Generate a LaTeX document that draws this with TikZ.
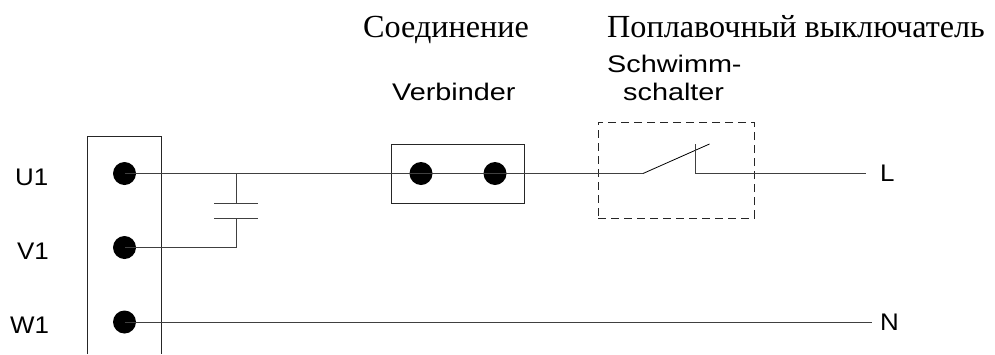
\documentclass[tikz,border=0pt]{standalone}
\usepackage{fontspec}
\setmainfont{Liberation Serif}
\newfontfamily\lsans[FakeStretch=1.2]{Liberation Sans}
\newfontfamily\lsanspin[FakeStretch=1.08]{Liberation Sans}
\begin{document}
\begin{tikzpicture}[x=1pt,y=-1pt,
  wire/.style={draw=black!75,line width=1pt},
  boxline/.style={draw=black!85,line width=0.9pt},
  dot/.style={circle,fill=black,draw=none,minimum size=23pt,inner sep=0pt},
  ru/.style={font=\fontsize{32.2}{32.2}\selectfont,anchor=base west,inner sep=0pt},
  de/.style={font=\lsans\fontsize{24}{24}\selectfont,anchor=base west,inner sep=0pt},
  pin/.style={font=\lsanspin\fontsize{24}{24}\selectfont,anchor=base west,inner sep=0pt}]
\useasboundingbox (0,0) rectangle (995,354);
% terminal block
\coordinate (tbl) at (87.5,354);
\coordinate (ttl) at (87.5,136.5);
\coordinate (ttr) at (161.5,136.5);
\coordinate (tbr) at (161.5,354);
\draw[boxline] (tbl) -- (ttl) -- (ttr) -- (tbr);
% dots
\node[dot] (u) at (124.5,173.5) {};
\node[dot] (v) at (124.5,247.5) {};
\node[dot] (w) at (124.5,322) {};
\node[dot] (c1) at (421,173.5) {};
\node[dot] (c2) at (495,173.5) {};
% connector and switch boxes
\node[boxline,draw,minimum width=133.5pt,minimum height=59pt,inner sep=0pt] (conn) at (457.75,174) {};
\node[draw=black!85,line width=0.8pt,dash pattern=on 8pt off 5pt,minimum width=156pt,minimum height=96pt,inner sep=0pt] (sw) at (676,170) {};
% coordinates
\coordinate (capj) at (236,173.5);
\coordinate (capa) at (236,203.5);
\coordinate (capb) at (236,218.5);
\coordinate (capk) at (236,247.5);
\coordinate (pal) at (214,203.5);
\coordinate (par) at (258,203.5);
\coordinate (pbl) at (214,218.5);
\coordinate (pbr) at (258,218.5);
\coordinate (swa) at (643,173.5);
\coordinate (swb) at (709.5,144);
\coordinate (swt) at (695,144);
\coordinate (swc) at (695,173.5);
\coordinate (lend) at (866,173.5);
\coordinate (nend) at (872,322);
% wires
\draw[wire] (u.center) -- (c1.center) -- (c2.center) -- (swa);
\draw[line width=0.8pt] (swa) -- (swb);
\draw[wire] (swt) -- (swc) -- (lend);
\draw[wire] (capj) -- (capa);
\draw[wire] (pal) -- (par);
\draw[wire] (pbl) -- (pbr);
\draw[wire] (capb) -- (capk) -- (v.center);
\draw[wire] (w.center) -- (nend);
% labels
\node[ru] (t1) at (363,37) {Соединение};
\node[ru] (t2) at (607,37) {Поплавочный выключатель};
\node[de] (t3) at (392,100) {Verbinder};
\node[de] (t4) at (607,72) {Schwimm-};
\node[de] (t5) at (623,100) {schalter};
\node[pin] (u1) at (15,185) {U1};
\node[pin] (v1) at (17,259) {V1};
\node[pin] (w1) at (10,333) {W1};
\node[pin] (ll) at (880,181) {L};
\node[pin] (nn) at (880,330) {N};
\end{tikzpicture}
\end{document}
